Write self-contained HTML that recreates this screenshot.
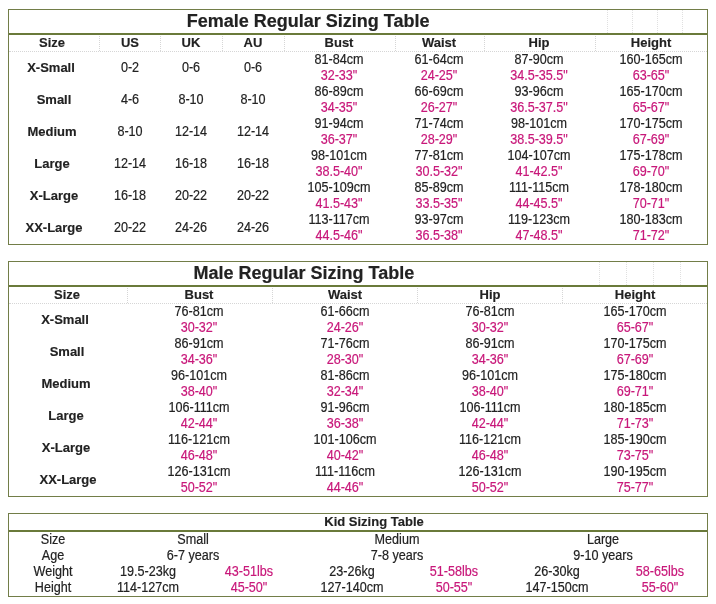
<!DOCTYPE html>
<html><head><meta charset="utf-8"><title>Sizing Table</title>
<style>
html,body{margin:0;padding:0;background:#fff;}
body{width:716px;height:604px;position:relative;overflow:hidden;font-family:"Liberation Sans",sans-serif;font-size:13.33px;color:#222222;}
#w{position:absolute;left:0;top:0;width:716px;height:604px;will-change:transform;}
#w>div{position:absolute;box-sizing:content-box;}
.ob{border:1px solid #727d48;}
.t{text-align:center;white-space:nowrap;font-size:14px;transform:scaleX(0.9);margin-top:-1px;-webkit-text-stroke:0.2px;}
.b{font-weight:bold;font-size:13.7px;transform:scaleX(0.95);margin-top:0;-webkit-text-stroke:0.15px;}
.p{color:#c8187a;}
.ttl{font-weight:bold;font-size:18px;transform:none;margin-top:0;-webkit-text-stroke:0.2px;}
</style></head><body><div id="w">
<div class="ob" style="left:8px;top:9px;width:698px;height:234px"></div>
<div class="t ttl" style="left:108.2px;top:10px;width:400px;height:23px;line-height:23px">Female Regular Sizing Table</div>
<div style="left:9px;top:33px;width:698px;height:2px;background:#6a7a3a"></div>
<div style="left:607px;top:10px;width:0px;height:23px;border-left:1px dotted #e0e0e0"></div>
<div style="left:632px;top:10px;width:0px;height:23px;border-left:1px dotted #e0e0e0"></div>
<div style="left:657px;top:10px;width:0px;height:23px;border-left:1px dotted #e0e0e0"></div>
<div style="left:682px;top:10px;width:0px;height:23px;border-left:1px dotted #e0e0e0"></div>
<div class="t b" style="left:-147.7px;top:35px;width:400px;height:16px;line-height:16px">Size</div>
<div class="t b" style="left:-70.2px;top:35px;width:400px;height:16px;line-height:16px">US</div>
<div class="t b" style="left:-8.8px;top:35px;width:400px;height:16px;line-height:16px">UK</div>
<div class="t b" style="left:53.2px;top:35px;width:400px;height:16px;line-height:16px">AU</div>
<div class="t b" style="left:139px;top:35px;width:400px;height:16px;line-height:16px">Bust</div>
<div class="t b" style="left:239.4px;top:35px;width:400px;height:16px;line-height:16px">Waist</div>
<div class="t b" style="left:339.4px;top:35px;width:400px;height:16px;line-height:16px">Hip</div>
<div class="t b" style="left:451.3px;top:35px;width:400px;height:16px;line-height:16px">Height</div>
<div style="left:99px;top:36px;width:0px;height:15px;border-left:1px dotted #d6d6d6"></div>
<div style="left:160px;top:36px;width:0px;height:15px;border-left:1px dotted #d6d6d6"></div>
<div style="left:222px;top:36px;width:0px;height:15px;border-left:1px dotted #d6d6d6"></div>
<div style="left:284px;top:36px;width:0px;height:15px;border-left:1px dotted #d6d6d6"></div>
<div style="left:395px;top:36px;width:0px;height:15px;border-left:1px dotted #d6d6d6"></div>
<div style="left:484px;top:36px;width:0px;height:15px;border-left:1px dotted #d6d6d6"></div>
<div style="left:595px;top:36px;width:0px;height:15px;border-left:1px dotted #d6d6d6"></div>
<div style="left:9px;top:51px;width:698px;height:0px;border-top:1px dotted #d6d6d6"></div>
<div class="t b" style="left:-148.7px;top:52px;width:400px;height:32px;line-height:32px">X-Small</div>
<div class="t " style="left:-70.2px;top:52px;width:400px;height:32px;line-height:32px">0-2</div>
<div class="t " style="left:-8.8px;top:52px;width:400px;height:32px;line-height:32px">0-6</div>
<div class="t " style="left:53.2px;top:52px;width:400px;height:32px;line-height:32px">0-6</div>
<div class="t " style="left:139px;top:52px;width:400px;height:16px;line-height:16px">81-84cm</div>
<div class="t p" style="left:139px;top:68px;width:400px;height:16px;line-height:16px">32-33"</div>
<div class="t " style="left:239.4px;top:52px;width:400px;height:16px;line-height:16px">61-64cm</div>
<div class="t p" style="left:239.4px;top:68px;width:400px;height:16px;line-height:16px">24-25"</div>
<div class="t " style="left:339.4px;top:52px;width:400px;height:16px;line-height:16px">87-90cm</div>
<div class="t p" style="left:339.4px;top:68px;width:400px;height:16px;line-height:16px">34.5-35.5"</div>
<div class="t " style="left:451.3px;top:52px;width:400px;height:16px;line-height:16px">160-165cm</div>
<div class="t p" style="left:451.3px;top:68px;width:400px;height:16px;line-height:16px">63-65"</div>
<div class="t b" style="left:-145.6px;top:84px;width:400px;height:32px;line-height:32px">Small</div>
<div class="t " style="left:-70.2px;top:84px;width:400px;height:32px;line-height:32px">4-6</div>
<div class="t " style="left:-8.8px;top:84px;width:400px;height:32px;line-height:32px">8-10</div>
<div class="t " style="left:53.2px;top:84px;width:400px;height:32px;line-height:32px">8-10</div>
<div class="t " style="left:139px;top:84px;width:400px;height:16px;line-height:16px">86-89cm</div>
<div class="t p" style="left:139px;top:100px;width:400px;height:16px;line-height:16px">34-35"</div>
<div class="t " style="left:239.4px;top:84px;width:400px;height:16px;line-height:16px">66-69cm</div>
<div class="t p" style="left:239.4px;top:100px;width:400px;height:16px;line-height:16px">26-27"</div>
<div class="t " style="left:339.4px;top:84px;width:400px;height:16px;line-height:16px">93-96cm</div>
<div class="t p" style="left:339.4px;top:100px;width:400px;height:16px;line-height:16px">36.5-37.5"</div>
<div class="t " style="left:451.3px;top:84px;width:400px;height:16px;line-height:16px">165-170cm</div>
<div class="t p" style="left:451.3px;top:100px;width:400px;height:16px;line-height:16px">65-67"</div>
<div class="t b" style="left:-148.1px;top:116px;width:400px;height:32px;line-height:32px">Medium</div>
<div class="t " style="left:-70.2px;top:116px;width:400px;height:32px;line-height:32px">8-10</div>
<div class="t " style="left:-8.8px;top:116px;width:400px;height:32px;line-height:32px">12-14</div>
<div class="t " style="left:53.2px;top:116px;width:400px;height:32px;line-height:32px">12-14</div>
<div class="t " style="left:139px;top:116px;width:400px;height:16px;line-height:16px">91-94cm</div>
<div class="t p" style="left:139px;top:132px;width:400px;height:16px;line-height:16px">36-37"</div>
<div class="t " style="left:239.4px;top:116px;width:400px;height:16px;line-height:16px">71-74cm</div>
<div class="t p" style="left:239.4px;top:132px;width:400px;height:16px;line-height:16px">28-29"</div>
<div class="t " style="left:339.4px;top:116px;width:400px;height:16px;line-height:16px">98-101cm</div>
<div class="t p" style="left:339.4px;top:132px;width:400px;height:16px;line-height:16px">38.5-39.5"</div>
<div class="t " style="left:451.3px;top:116px;width:400px;height:16px;line-height:16px">170-175cm</div>
<div class="t p" style="left:451.3px;top:132px;width:400px;height:16px;line-height:16px">67-69"</div>
<div class="t b" style="left:-148.4px;top:148px;width:400px;height:32px;line-height:32px">Large</div>
<div class="t " style="left:-70.2px;top:148px;width:400px;height:32px;line-height:32px">12-14</div>
<div class="t " style="left:-8.8px;top:148px;width:400px;height:32px;line-height:32px">16-18</div>
<div class="t " style="left:53.2px;top:148px;width:400px;height:32px;line-height:32px">16-18</div>
<div class="t " style="left:139px;top:148px;width:400px;height:16px;line-height:16px">98-101cm</div>
<div class="t p" style="left:139px;top:164px;width:400px;height:16px;line-height:16px">38.5-40"</div>
<div class="t " style="left:239.4px;top:148px;width:400px;height:16px;line-height:16px">77-81cm</div>
<div class="t p" style="left:239.4px;top:164px;width:400px;height:16px;line-height:16px">30.5-32"</div>
<div class="t " style="left:339.4px;top:148px;width:400px;height:16px;line-height:16px">104-107cm</div>
<div class="t p" style="left:339.4px;top:164px;width:400px;height:16px;line-height:16px">41-42.5"</div>
<div class="t " style="left:451.3px;top:148px;width:400px;height:16px;line-height:16px">175-178cm</div>
<div class="t p" style="left:451.3px;top:164px;width:400px;height:16px;line-height:16px">69-70"</div>
<div class="t b" style="left:-146px;top:180px;width:400px;height:32px;line-height:32px">X-Large</div>
<div class="t " style="left:-70.2px;top:180px;width:400px;height:32px;line-height:32px">16-18</div>
<div class="t " style="left:-8.8px;top:180px;width:400px;height:32px;line-height:32px">20-22</div>
<div class="t " style="left:53.2px;top:180px;width:400px;height:32px;line-height:32px">20-22</div>
<div class="t " style="left:139px;top:180px;width:400px;height:16px;line-height:16px">105-109cm</div>
<div class="t p" style="left:139px;top:196px;width:400px;height:16px;line-height:16px">41.5-43"</div>
<div class="t " style="left:239.4px;top:180px;width:400px;height:16px;line-height:16px">85-89cm</div>
<div class="t p" style="left:239.4px;top:196px;width:400px;height:16px;line-height:16px">33.5-35"</div>
<div class="t " style="left:339.4px;top:180px;width:400px;height:16px;line-height:16px">111-115cm</div>
<div class="t p" style="left:339.4px;top:196px;width:400px;height:16px;line-height:16px">44-45.5"</div>
<div class="t " style="left:451.3px;top:180px;width:400px;height:16px;line-height:16px">178-180cm</div>
<div class="t p" style="left:451.3px;top:196px;width:400px;height:16px;line-height:16px">70-71"</div>
<div class="t b" style="left:-146.5px;top:212px;width:400px;height:32px;line-height:32px">XX-Large</div>
<div class="t " style="left:-70.2px;top:212px;width:400px;height:32px;line-height:32px">20-22</div>
<div class="t " style="left:-8.8px;top:212px;width:400px;height:32px;line-height:32px">24-26</div>
<div class="t " style="left:53.2px;top:212px;width:400px;height:32px;line-height:32px">24-26</div>
<div class="t " style="left:139px;top:212px;width:400px;height:16px;line-height:16px">113-117cm</div>
<div class="t p" style="left:139px;top:228px;width:400px;height:16px;line-height:16px">44.5-46"</div>
<div class="t " style="left:239.4px;top:212px;width:400px;height:16px;line-height:16px">93-97cm</div>
<div class="t p" style="left:239.4px;top:228px;width:400px;height:16px;line-height:16px">36.5-38"</div>
<div class="t " style="left:339.4px;top:212px;width:400px;height:16px;line-height:16px">119-123cm</div>
<div class="t p" style="left:339.4px;top:228px;width:400px;height:16px;line-height:16px">47-48.5"</div>
<div class="t " style="left:451.3px;top:212px;width:400px;height:16px;line-height:16px">180-183cm</div>
<div class="t p" style="left:451.3px;top:228px;width:400px;height:16px;line-height:16px">71-72"</div>
<div class="ob" style="left:8px;top:261px;width:698px;height:234px"></div>
<div class="t ttl" style="left:103.8px;top:262px;width:400px;height:23px;line-height:23px">Male Regular Sizing Table</div>
<div style="left:9px;top:285px;width:698px;height:2px;background:#6a7a3a"></div>
<div style="left:599px;top:262px;width:0px;height:23px;border-left:1px dotted #e0e0e0"></div>
<div style="left:626px;top:262px;width:0px;height:23px;border-left:1px dotted #e0e0e0"></div>
<div style="left:653px;top:262px;width:0px;height:23px;border-left:1px dotted #e0e0e0"></div>
<div style="left:680px;top:262px;width:0px;height:23px;border-left:1px dotted #e0e0e0"></div>
<div class="t b" style="left:-133.1px;top:287px;width:400px;height:16px;line-height:16px">Size</div>
<div class="t b" style="left:-1.1px;top:287px;width:400px;height:16px;line-height:16px">Bust</div>
<div class="t b" style="left:144.6px;top:287px;width:400px;height:16px;line-height:16px">Waist</div>
<div class="t b" style="left:289.7px;top:287px;width:400px;height:16px;line-height:16px">Hip</div>
<div class="t b" style="left:435px;top:287px;width:400px;height:16px;line-height:16px">Height</div>
<div style="left:127px;top:288px;width:0px;height:15px;border-left:1px dotted #d6d6d6"></div>
<div style="left:272px;top:288px;width:0px;height:15px;border-left:1px dotted #d6d6d6"></div>
<div style="left:417px;top:288px;width:0px;height:15px;border-left:1px dotted #d6d6d6"></div>
<div style="left:562px;top:288px;width:0px;height:15px;border-left:1px dotted #d6d6d6"></div>
<div style="left:9px;top:303px;width:698px;height:0px;border-top:1px dotted #d6d6d6"></div>
<div class="t b" style="left:-134.7px;top:304px;width:400px;height:32px;line-height:32px">X-Small</div>
<div class="t " style="left:-1.1px;top:304px;width:400px;height:16px;line-height:16px">76-81cm</div>
<div class="t p" style="left:-1.1px;top:320px;width:400px;height:16px;line-height:16px">30-32"</div>
<div class="t " style="left:144.6px;top:304px;width:400px;height:16px;line-height:16px">61-66cm</div>
<div class="t p" style="left:144.6px;top:320px;width:400px;height:16px;line-height:16px">24-26"</div>
<div class="t " style="left:289.7px;top:304px;width:400px;height:16px;line-height:16px">76-81cm</div>
<div class="t p" style="left:289.7px;top:320px;width:400px;height:16px;line-height:16px">30-32"</div>
<div class="t " style="left:435px;top:304px;width:400px;height:16px;line-height:16px">165-170cm</div>
<div class="t p" style="left:435px;top:320px;width:400px;height:16px;line-height:16px">65-67"</div>
<div class="t b" style="left:-133.5px;top:336px;width:400px;height:32px;line-height:32px">Small</div>
<div class="t " style="left:-1.1px;top:336px;width:400px;height:16px;line-height:16px">86-91cm</div>
<div class="t p" style="left:-1.1px;top:352px;width:400px;height:16px;line-height:16px">34-36"</div>
<div class="t " style="left:144.6px;top:336px;width:400px;height:16px;line-height:16px">71-76cm</div>
<div class="t p" style="left:144.6px;top:352px;width:400px;height:16px;line-height:16px">28-30"</div>
<div class="t " style="left:289.7px;top:336px;width:400px;height:16px;line-height:16px">86-91cm</div>
<div class="t p" style="left:289.7px;top:352px;width:400px;height:16px;line-height:16px">34-36"</div>
<div class="t " style="left:435px;top:336px;width:400px;height:16px;line-height:16px">170-175cm</div>
<div class="t p" style="left:435px;top:352px;width:400px;height:16px;line-height:16px">67-69"</div>
<div class="t b" style="left:-134.2px;top:368px;width:400px;height:32px;line-height:32px">Medium</div>
<div class="t " style="left:-1.1px;top:368px;width:400px;height:16px;line-height:16px">96-101cm</div>
<div class="t p" style="left:-1.1px;top:384px;width:400px;height:16px;line-height:16px">38-40"</div>
<div class="t " style="left:144.6px;top:368px;width:400px;height:16px;line-height:16px">81-86cm</div>
<div class="t p" style="left:144.6px;top:384px;width:400px;height:16px;line-height:16px">32-34"</div>
<div class="t " style="left:289.7px;top:368px;width:400px;height:16px;line-height:16px">96-101cm</div>
<div class="t p" style="left:289.7px;top:384px;width:400px;height:16px;line-height:16px">38-40"</div>
<div class="t " style="left:435px;top:368px;width:400px;height:16px;line-height:16px">175-180cm</div>
<div class="t p" style="left:435px;top:384px;width:400px;height:16px;line-height:16px">69-71"</div>
<div class="t b" style="left:-134.2px;top:400px;width:400px;height:32px;line-height:32px">Large</div>
<div class="t " style="left:-1.1px;top:400px;width:400px;height:16px;line-height:16px">106-111cm</div>
<div class="t p" style="left:-1.1px;top:416px;width:400px;height:16px;line-height:16px">42-44"</div>
<div class="t " style="left:144.6px;top:400px;width:400px;height:16px;line-height:16px">91-96cm</div>
<div class="t p" style="left:144.6px;top:416px;width:400px;height:16px;line-height:16px">36-38"</div>
<div class="t " style="left:289.7px;top:400px;width:400px;height:16px;line-height:16px">106-111cm</div>
<div class="t p" style="left:289.7px;top:416px;width:400px;height:16px;line-height:16px">42-44"</div>
<div class="t " style="left:435px;top:400px;width:400px;height:16px;line-height:16px">180-185cm</div>
<div class="t p" style="left:435px;top:416px;width:400px;height:16px;line-height:16px">71-73"</div>
<div class="t b" style="left:-134.2px;top:432px;width:400px;height:32px;line-height:32px">X-Large</div>
<div class="t " style="left:-1.1px;top:432px;width:400px;height:16px;line-height:16px">116-121cm</div>
<div class="t p" style="left:-1.1px;top:448px;width:400px;height:16px;line-height:16px">46-48"</div>
<div class="t " style="left:144.6px;top:432px;width:400px;height:16px;line-height:16px">101-106cm</div>
<div class="t p" style="left:144.6px;top:448px;width:400px;height:16px;line-height:16px">40-42"</div>
<div class="t " style="left:289.7px;top:432px;width:400px;height:16px;line-height:16px">116-121cm</div>
<div class="t p" style="left:289.7px;top:448px;width:400px;height:16px;line-height:16px">46-48"</div>
<div class="t " style="left:435px;top:432px;width:400px;height:16px;line-height:16px">185-190cm</div>
<div class="t p" style="left:435px;top:448px;width:400px;height:16px;line-height:16px">73-75"</div>
<div class="t b" style="left:-132.4px;top:464px;width:400px;height:32px;line-height:32px">XX-Large</div>
<div class="t " style="left:-1.1px;top:464px;width:400px;height:16px;line-height:16px">126-131cm</div>
<div class="t p" style="left:-1.1px;top:480px;width:400px;height:16px;line-height:16px">50-52"</div>
<div class="t " style="left:144.6px;top:464px;width:400px;height:16px;line-height:16px">111-116cm</div>
<div class="t p" style="left:144.6px;top:480px;width:400px;height:16px;line-height:16px">44-46"</div>
<div class="t " style="left:289.7px;top:464px;width:400px;height:16px;line-height:16px">126-131cm</div>
<div class="t p" style="left:289.7px;top:480px;width:400px;height:16px;line-height:16px">50-52"</div>
<div class="t " style="left:435px;top:464px;width:400px;height:16px;line-height:16px">190-195cm</div>
<div class="t p" style="left:435px;top:480px;width:400px;height:16px;line-height:16px">75-77"</div>
<div class="ob" style="left:8px;top:513px;width:698px;height:82px"></div>
<div class="t b" style="left:173.5px;top:514px;width:400px;height:16px;line-height:16px">Kid Sizing Table</div>
<div style="left:9px;top:530px;width:698px;height:2px;background:#6a7a3a"></div>
<div class="t " style="left:-147px;top:532px;width:400px;height:16px;line-height:16px">Size</div>
<div class="t " style="left:-147px;top:548px;width:400px;height:16px;line-height:16px">Age</div>
<div class="t " style="left:-147px;top:564px;width:400px;height:16px;line-height:16px">Weight</div>
<div class="t " style="left:-147px;top:580px;width:400px;height:16px;line-height:16px">Height</div>
<div class="t " style="left:-7.4px;top:532px;width:400px;height:16px;line-height:16px">Small</div>
<div class="t " style="left:-7.4px;top:548px;width:400px;height:16px;line-height:16px">6-7 years</div>
<div class="t " style="left:196.7px;top:532px;width:400px;height:16px;line-height:16px">Medium</div>
<div class="t " style="left:196.7px;top:548px;width:400px;height:16px;line-height:16px">7-8 years</div>
<div class="t " style="left:403.2px;top:532px;width:400px;height:16px;line-height:16px">Large</div>
<div class="t " style="left:403.2px;top:548px;width:400px;height:16px;line-height:16px">9-10 years</div>
<div class="t " style="left:-52.2px;top:564px;width:400px;height:16px;line-height:16px">19.5-23kg</div>
<div class="t p" style="left:49.1px;top:564px;width:400px;height:16px;line-height:16px">43-51lbs</div>
<div class="t " style="left:152px;top:564px;width:400px;height:16px;line-height:16px">23-26kg</div>
<div class="t p" style="left:254.3px;top:564px;width:400px;height:16px;line-height:16px">51-58lbs</div>
<div class="t " style="left:357.2px;top:564px;width:400px;height:16px;line-height:16px">26-30kg</div>
<div class="t p" style="left:460.2px;top:564px;width:400px;height:16px;line-height:16px">58-65lbs</div>
<div class="t " style="left:-52.2px;top:580px;width:400px;height:16px;line-height:16px">114-127cm</div>
<div class="t p" style="left:49.1px;top:580px;width:400px;height:16px;line-height:16px">45-50"</div>
<div class="t " style="left:152px;top:580px;width:400px;height:16px;line-height:16px">127-140cm</div>
<div class="t p" style="left:254.3px;top:580px;width:400px;height:16px;line-height:16px">50-55"</div>
<div class="t " style="left:357.2px;top:580px;width:400px;height:16px;line-height:16px">147-150cm</div>
<div class="t p" style="left:460.2px;top:580px;width:400px;height:16px;line-height:16px">55-60"</div>
</div></body></html>
